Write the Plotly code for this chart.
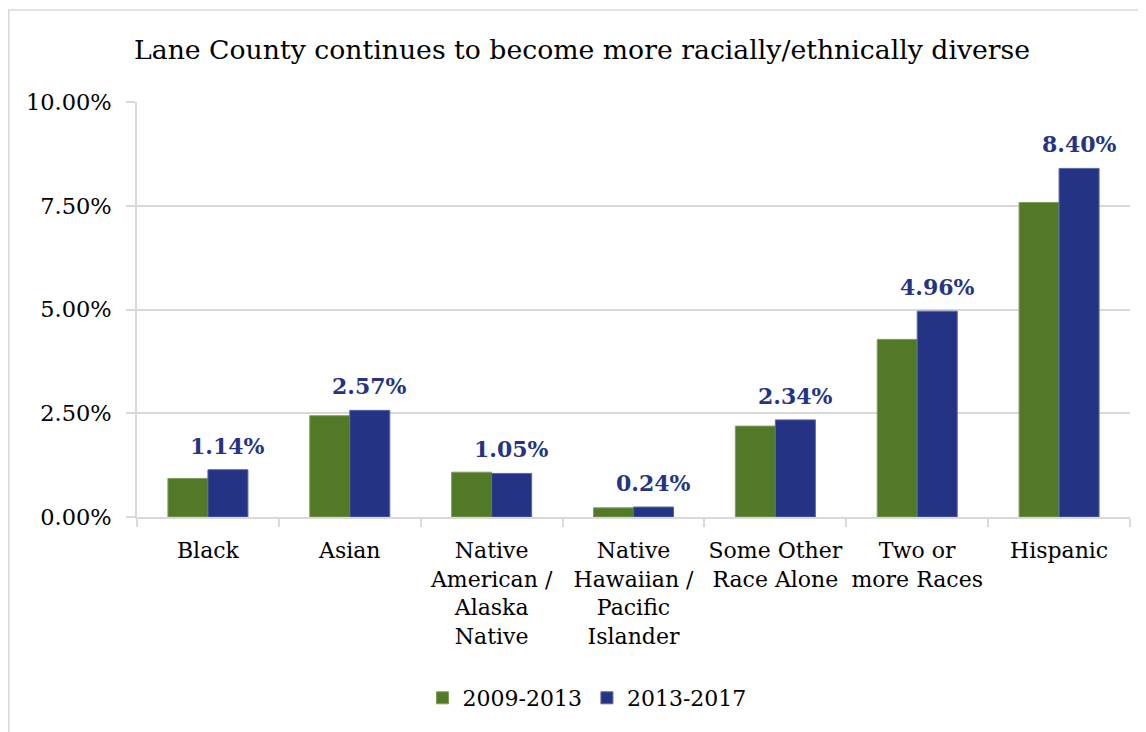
import plotly.graph_objects as go

categories = ["Black", "Asian", "Native<br>American /<br>Alaska<br>Native",
              "Native<br>Hawaiian /<br>Pacific<br>Islander",
              "Some Other<br>Race Alone", "Two or<br>more Races", "Hispanic"]
series_2009_2013 = [0.0093, 0.0244, 0.0108, 0.0022, 0.0219, 0.0428, 0.0758]
series_2013_2017 = [0.0114, 0.0257, 0.0105, 0.0024, 0.0234, 0.0496, 0.0840]
y_ticks = [0, 0.025, 0.05, 0.075, 0.10]
y_tick_labels = ["0.00%", "2.50%", "5.00%", "7.50%", "10.00%"]

GREEN = "#527926"
BLUE = "#253384"
FONT = "DejaVu Serif"

W, H = 1138, 724
L, R, T, B = 129, 16, 94, 215
PW = W - L - R
PH = H - T - B

fig = go.Figure()
fig.add_trace(go.Bar(
    x=categories, y=series_2009_2013, name="2009-2013",
    marker=dict(color=GREEN, line=dict(color="#7E9E5E", width=1)),
))
fig.add_trace(go.Bar(
    x=categories, y=series_2013_2017, name="2013-2017",
    marker=dict(color=BLUE, line=dict(color="#5A66A6", width=1)),
))

# value labels above the 2013-2017 bars
bar_half_px = (1 - 0.436) / 2 * (PW / len(categories)) / 2
for c, v in zip(categories, series_2013_2017):
    fig.add_annotation(
        x=c, y=v, xref="x", yref="y", text=f"{v*100:.2f}%",
        showarrow=False, xanchor="center", yanchor="bottom",
        xshift=bar_half_px, yshift=9,
        font=dict(family=FONT, size=22, color=BLUE, weight="bold"),
    )

fig.update_layout(
    width=W, height=H,
    margin=dict(l=L, r=R, t=T, b=B),
    paper_bgcolor="white", plot_bgcolor="white",
    barmode="group", bargap=0.436, bargroupgap=0,
    font=dict(family=FONT, size=22, color="#000000"),
    title=dict(text="Lane County continues to become more racially/ethnically diverse",
               x=126/W, xref="container", xanchor="left",
               y=1-42/H, yref="container", yanchor="middle",
               font=dict(family=FONT, size=26.7, color="#000000")),
    xaxis=dict(
        showline=True, linecolor="#D9D9D9", linewidth=1.5,
        ticks="outside", tickson="boundaries", ticklen=8, tickcolor="#D9D9D9", tickwidth=1.5,
        tickfont=dict(family=FONT, size=22, color="#000000"),
        tickangle=0, ticklabelstandoff=13,
    ),
    yaxis=dict(
        range=[0, 0.10], tickvals=y_ticks, ticktext=y_tick_labels,
        showgrid=True, gridcolor="#D9D9D9", gridwidth=1.5,
        showline=True, linecolor="#D9D9D9", linewidth=1.5,
        ticks="outside", ticklen=9, tickcolor="#D9D9D9", tickwidth=1.5,
        tickfont=dict(family=FONT, size=22.5, color="#000000"),
        zeroline=False, ticklabelstandoff=10,
    ),
    legend=dict(
        orientation="h", xanchor="center", x=(579-L)/PW,
        yanchor="middle", y=(509-690)/PH,
        font=dict(family=FONT, size=22, color="#000000"),
        itemwidth=30, traceorder="normal",
    ),
    shapes=[dict(type="rect", xref="paper", yref="paper",
                 x0=(-L+0.75)/PW, x1=(W+20-L)/PW,
                 y0=(509-760)/PH, y1=(509-2)/PH,
                 line=dict(color="#D9D9D9", width=1.5), fillcolor="rgba(0,0,0,0)",
                 layer="below")],
)

fig.write_html("out.html")
